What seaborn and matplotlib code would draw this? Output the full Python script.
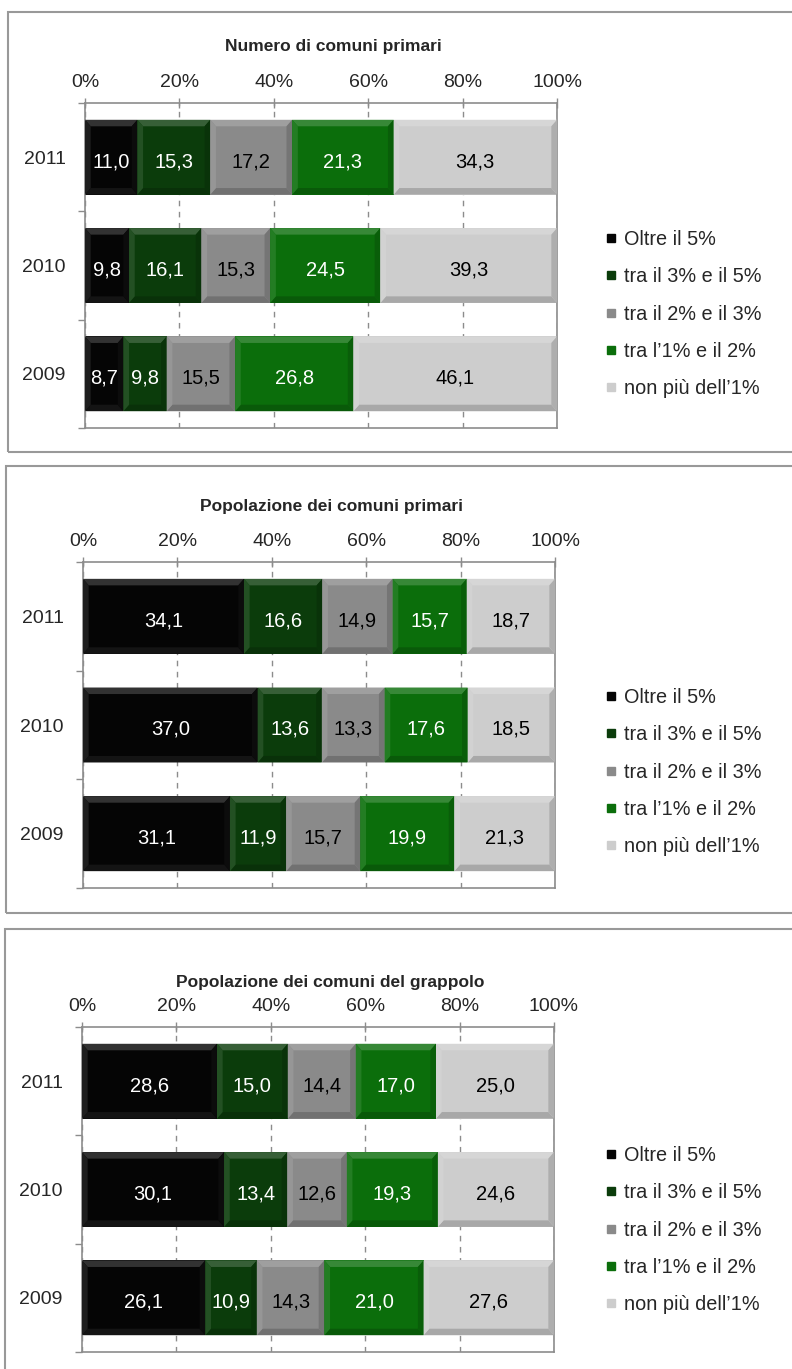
import numpy as np
import pandas as pd
import matplotlib
matplotlib.use('Agg')
import matplotlib.pyplot as plt
import seaborn as sns
from matplotlib.patches import Rectangle, Polygon
from matplotlib.lines import Line2D
from matplotlib.colors import to_rgb

# -------------------- dati --------------------
years = ['2011', '2010', '2009']
classes = ['Oltre il 5%', 'tra il 3% e il 5%', 'tra il 2% e il 3%',
           'tra l\u20191% e il 2%', 'non più dell\u20191%']
colors = ['#050505', '#0b3c0b', '#8a8a8a', '#0b6e0b', '#cdcdcd']
text_colors = ['white', 'white', 'black', 'white', 'black']

titles = ['Numero di comuni primari',
          'Popolazione dei comuni primari',
          'Popolazione dei comuni del grappolo']

numero_oltre5 = [11.0, 9.8, 8.7]
numero_3_5 = [15.3, 16.1, 9.8]
numero_2_3 = [17.2, 15.3, 15.5]
numero_1_2 = [21.3, 24.5, 26.8]
numero_fino1 = [34.3, 39.3, 46.1]

pop_primari_oltre5 = [34.1, 37.0, 31.1]
pop_primari_3_5 = [16.6, 13.6, 11.9]
pop_primari_2_3 = [14.9, 13.3, 15.7]
pop_primari_1_2 = [15.7, 17.6, 19.9]
pop_primari_fino1 = [18.7, 18.5, 21.3]

pop_grappolo_oltre5 = [28.6, 30.1, 26.1]
pop_grappolo_3_5 = [15.0, 13.4, 10.9]
pop_grappolo_2_3 = [14.4, 12.6, 14.3]
pop_grappolo_1_2 = [17.0, 19.3, 21.0]
pop_grappolo_fino1 = [25.0, 24.6, 27.6]

panels = [
    [numero_oltre5, numero_3_5, numero_2_3, numero_1_2, numero_fino1],
    [pop_primari_oltre5, pop_primari_3_5, pop_primari_2_3, pop_primari_1_2, pop_primari_fino1],
    [pop_grappolo_oltre5, pop_grappolo_3_5, pop_grappolo_2_3, pop_grappolo_1_2, pop_grappolo_fino1],
]

# -------------------- stile --------------------
sns.set_style('white')
plt.rcParams['font.family'] = ['Liberation Sans', 'DejaVu Sans']

W, H = 792, 1369
fig = plt.figure(figsize=(W / 100, H / 100), dpi=100)

# posizioni in pixel (sinistra, alto, basso asse) / cornice / titolo / legenda
axes_px = [(85, 103, 428), (83, 562, 888), (82, 1027, 1352)]
frame_px = [(8, 12, 452), (6, 466, 913), (5, 929, 1380)]
title_px = [(333, 47), (332, 506), (330, 982)]
legend_px = [314, 772, 1230]

GRAY = '#8c8c8c'


def lighten(c, f):
    r = np.array(to_rgb(c))
    return tuple(r + (1 - r) * f)


def darken(c, f):
    r = np.array(to_rgb(c))
    return tuple(r * (1 - f))


def bevel(ax, p):
    x0, y0 = p.get_x(), p.get_y()
    x1, y1 = x0 + p.get_width(), y0 + p.get_height()
    fc = p.get_facecolor()[:3]
    bx = min(0.012, p.get_width() / 4)
    by = 0.06
    dark = sum(fc) < 0.3
    pieces = [
        ([(x0, y0), (x1, y0), (x1 - bx, y0 + by), (x0 + bx, y0 + by)], lighten(fc, 0.18)),
        ([(x0, y1), (x1, y1), (x1 - bx, y1 - by), (x0 + bx, y1 - by)], lighten(fc, 0.06) if dark else darken(fc, 0.18)),
        ([(x0, y0), (x0 + bx, y0 + by), (x0 + bx, y1 - by), (x0, y1)], lighten(fc, 0.1)),
        ([(x1, y0), (x1 - bx, y0 + by), (x1 - bx, y1 - by), (x1, y1)], lighten(fc, 0.03) if dark else darken(fc, 0.15)),
    ]
    for pts, col in pieces:
        ax.add_patch(Polygon(pts, closed=True, facecolor=col, edgecolor='none', zorder=3))


for k, series in enumerate(panels):
    left, top, bottom = axes_px[k]
    ax = fig.add_axes([left / W, 1 - bottom / H, 472 / W, (bottom - top) / H])

    df = pd.DataFrame({
        'pos': np.tile(np.arange(len(years)), len(classes)),
        'classe': np.repeat(classes, len(years)),
        'valore': np.concatenate(series),
    })

    sns.histplot(data=df, y='pos', weights='valore', hue='classe',
                 hue_order=classes[::-1], multiple='fill', discrete=True,
                 shrink=0.69, palette=dict(zip(classes, colors)), alpha=1,
                 edgecolor='none', linewidth=0, legend=False, ax=ax)

    for p in list(ax.patches):
        p.set_zorder(2)
        bevel(ax, p)

    # etichette dei valori
    for i in range(len(years)):
        vals = [s[i] for s in series]
        tot = sum(vals)
        cum = np.cumsum(vals)
        for j, v in enumerate(vals):
            ax.text((cum[j] - v / 2) / tot, i + 0.04, f'{v:.1f}'.replace('.', ','),
                    ha='center', va='center', fontsize=14.5, color=text_colors[j], zorder=5)

    ax.set_xlim(0, 1)
    ax.set_ylim(len(years) - 0.5, -0.5)
    ax.set_xlabel('')
    ax.set_ylabel('')

    ax.xaxis.tick_top()
    ax.set_xticks(np.linspace(0, 1, 6))
    ax.set_xticklabels(['0%', '20%', '40%', '60%', '80%', '100%'])
    ax.tick_params(axis='x', which='major', direction='inout', length=7, width=1,
                   color=GRAY, pad=5, labelsize=14, top=True, bottom=False,
                   labeltop=True, labelbottom=False)

    ax.set_yticks(range(len(years)))
    ax.set_yticklabels(years)
    ax.set_yticks(np.arange(-0.5, len(years)), minor=True)
    ax.tick_params(axis='y', which='major', length=0, pad=14, labelsize=14)
    ax.tick_params(axis='y', which='minor', direction='out', length=5, width=1, color=GRAY, left=True)

    ax.grid(axis='x', color=GRAY, linestyle=(0, (4, 4)), linewidth=1)
    ax.grid(axis='y', visible=False)
    ax.set_axisbelow(True)
    for s in ax.spines.values():
        s.set_visible(True)
        s.set_color(GRAY)
        s.set_linewidth(1.2)

    # legenda
    handles = [Line2D([], [], marker='s', linestyle='none', markersize=6,
                      markerfacecolor=c, markeredgecolor=c) for c in colors]
    ax.legend(handles, classes, loc='center left',
              bbox_to_anchor=(603 / W, 1 - legend_px[k] / H), bbox_transform=fig.transFigure,
              frameon=False, fontsize=14.3, labelspacing=0.92, handlelength=0.8,
              handletextpad=0.25, borderpad=0, borderaxespad=0)

    # titolo
    tx, ty = title_px[k]
    fig.text(tx / W, 1 - ty / H, titles[k], ha='center', va='center',
             fontsize=12.5, fontweight='bold')

    # cornice
    fx, ftop, fbot = frame_px[k]
    fig.add_artist(Rectangle((fx / W, 1 - fbot / H), 1.1, (fbot - ftop) / H,
                             transform=fig.transFigure, fill=False,
                             edgecolor='#999999', linewidth=1.5))

fig.savefig('out.png', dpi=100)
